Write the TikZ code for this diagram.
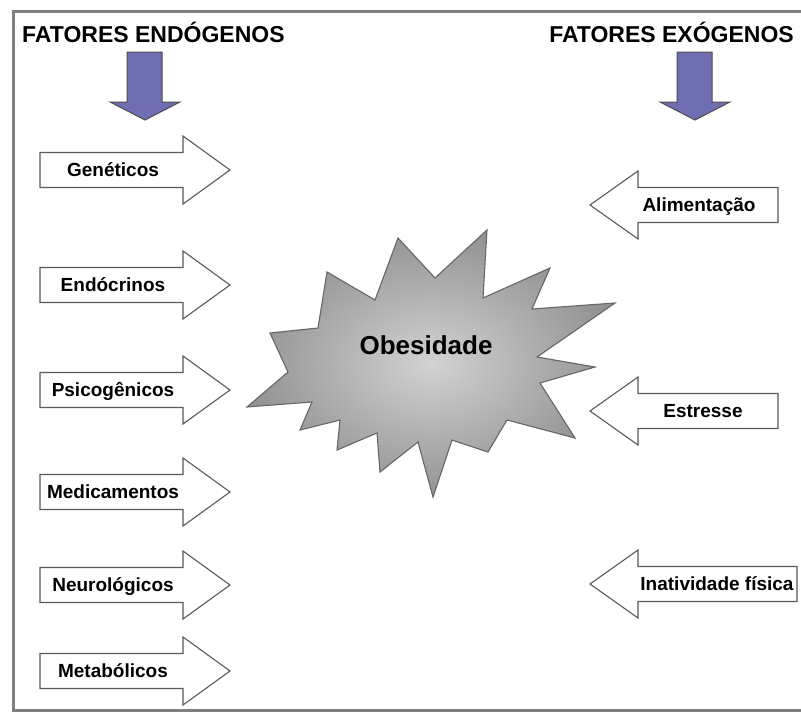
\documentclass[tikz,border=0pt]{standalone}
\usepackage{fontspec}
\setmainfont{Liberation Sans}
\usepackage{xcolor}
\usepackage{tikz}

\definecolor{azulseta}{RGB}{112,110,178}
\definecolor{moldura}{RGB}{128,128,128}

\tikzset{
  fatorbox/.style={draw=black!65, fill=white, line width=1.1pt, line join=miter},
  setabaixo/.style={draw=black!70, fill=azulseta, line width=1pt},
  rotulo/.style={font=\fontsize{19}{21}\selectfont\bfseries, inner sep=0pt, anchor=base},
  titulo/.style={font=\fontsize{23}{25}\selectfont\bfseries, inner sep=0pt},
}

\begin{document}
\begin{tikzpicture}[x=1pt,y=-1pt]
\useasboundingbox (0,0) rectangle (801,715);

% moldura
\draw[moldura, line width=3pt] (801,11.5) -- (13,11.5) -- (13,710) -- (801,710);

% titulos
\node[titulo, anchor=base west] (endo) at (22,42) {FATORES ENDÓGENOS};
\node[titulo, anchor=base east] (exo) at (794,42) {FATORES EXÓGENOS};

% setas azuis
\draw[setabaixo] (127,52) -- (162,52) -- (162,102) -- (180,102) -- (145,120) -- (110,102) -- (127,102) -- cycle;
\draw[setabaixo] (677,52) -- (712,52) -- (712,102) -- (730,102) -- (695,120) -- (660,102) -- (677,102) -- cycle;

% fatores endogenos
\foreach \c/\txt/\nome in {170/Genéticos/gen, 285/Endócrinos/endoc, 390/Psicogênicos/psico,
  492/Medicamentos/medic, 585/Neurológicos/neuro, 671/Metabólicos/metab} {
  \draw[fatorbox] (40,\c-17.5) -- (183,\c-17.5) -- (183,\c-34) -- (230,\c)
    -- (183,\c+34) -- (183,\c+17.5) -- (40,\c+17.5) -- cycle;
  \node[rotulo] (\nome) at (113,\c+6.5) {\txt};
}

% fatores exogenos
\foreach \c/\r/\tx/\txt/\nome in {205/778/699/Alimentação/alim, 411/778/703/Estresse/estr,
  584/797/717/Inatividade física/inat} {
  \draw[fatorbox] (590,\c) -- (638,\c-34) -- (638,\c-17.5) -- (\r,\c-17.5)
    -- (\r,\c+17.5) -- (638,\c+17.5) -- (638,\c+34) -- cycle;
  \node[rotulo] (\nome) at (\tx,\c+6.5) {\txt};
}

% explosao central
\shade[draw=black!60, line width=1.1pt, inner color=gray!35, outer color=gray!85]
  (487,230) -- (483,298) -- (550,268) -- (532,309) -- (615,303) -- (537,357)
  -- (595,367) -- (540,383) -- (575,438) -- (507,420) -- (488,452) -- (452,440)
  -- (433,497) -- (418,442) -- (380,472) -- (377,433) -- (337,450) -- (340,420)
  -- (300,430) -- (312,402) -- (247,407) -- (288,372) -- (270,333) -- (318,328)
  -- (327,272) -- (375,300) -- (398,238) -- (435,278) -- cycle;
\node[font=\fontsize{26}{28}\selectfont\bfseries] (obes) at (426,345) {Obesidade};
\end{tikzpicture}
\end{document}
